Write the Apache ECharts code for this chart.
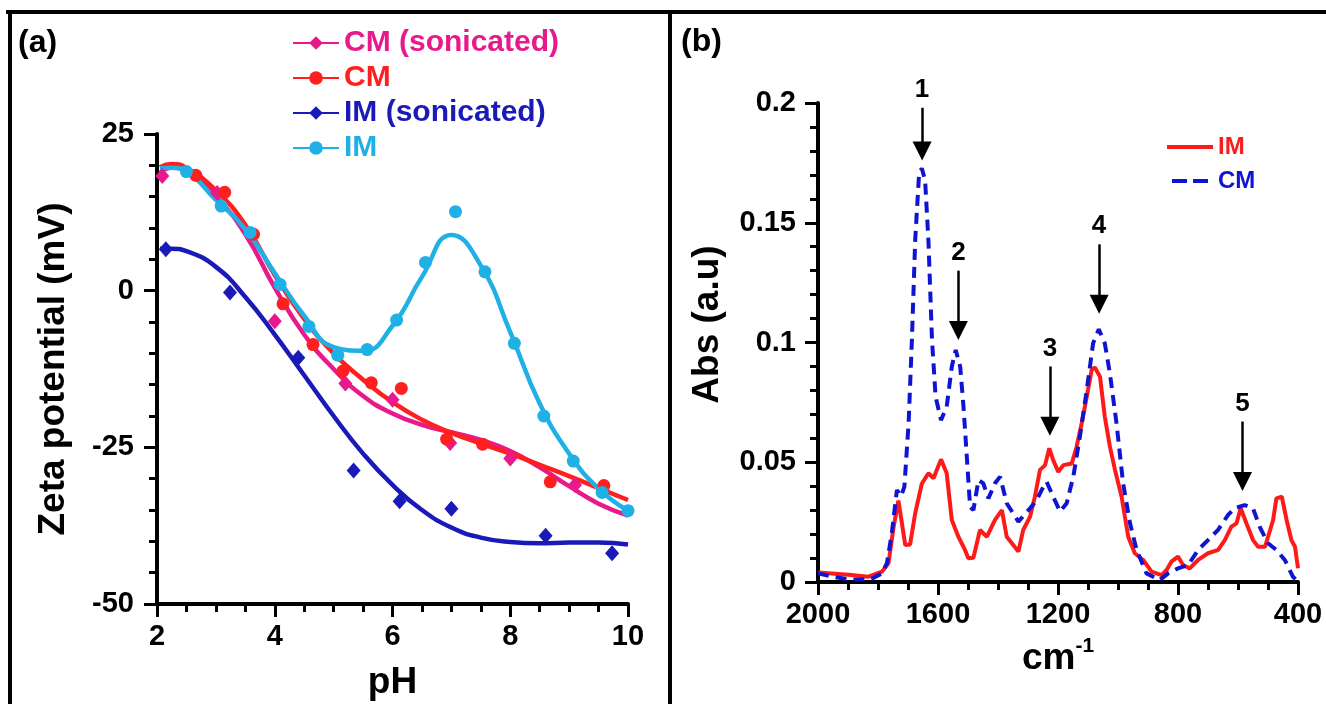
<!DOCTYPE html>
<html>
<head>
<meta charset="utf-8">
<script src="https://cdn.jsdelivr.net/npm/echarts@6/dist/echarts.min.js"></script>
<style>
  html, body { margin: 0; padding: 0; background: #fff; }
  #main { width: 1326px; height: 704px; }
</style>
</head>
<body>
<div id="main"></div>
<script>
// (a) zeta potential vs pH - measured points
var cmSonPH = [2.09, 3.02, 4.0, 5.2, 6.0, 6.98, 8.0, 9.1];
var cmSonZeta = [18.3, 15.6, -4.9, -14.8, -17.4, -24.3, -26.8, -31.0];
var cmPH = [2.66, 3.15, 3.64, 4.14, 4.65, 5.16, 5.64, 6.15, 6.92, 7.53, 8.68, 9.59];
var cmZeta = [18.4, 15.7, 9.0, -2.1, -8.6, -12.8, -14.7, -15.6, -23.7, -24.5, -30.5, -31.1];
var imSonPH = [2.15, 3.24, 4.4, 5.34, 6.12, 7.0, 8.6, 9.73];
var imSonZeta = [6.6, -0.3, -10.7, -28.7, -33.6, -34.8, -39.1, -41.9];
var imPH = [2.5, 3.09, 3.58, 4.09, 4.58, 5.07, 5.57, 6.07, 6.56, 7.07, 7.57, 8.07, 8.57, 9.07, 9.56, 10.0];
var imZeta = [19.0, 13.5, 9.3, 1.0, -5.7, -10.3, -9.4, -4.7, 4.5, 12.6, 3.0, -8.4, -20.0, -27.2, -32.2, -35.1];

// (a) fitted curves
var fitPH = [2.05, 2.25, 2.5, 3, 3.5, 4, 4.5, 5, 5.5, 6, 6.5, 7, 7.5, 8, 8.5, 9, 9.5, 10];
var cmSonFit = [18.8, 19.6, 19.0, 15.0, 9.0, 0.5, -7.0, -12.5, -16.8, -19.6, -21.4, -22.6, -23.8, -25.6, -28.2, -31.2, -34.0, -35.9];
var cmFit = [19.7, 20.2, 19.6, 16.0, 10.5, 2.5, -4.5, -10.0, -14.2, -17.8, -20.6, -22.7, -24.4, -26.0, -27.8, -29.6, -31.5, -33.4];
var imSonFit = [6.7, 6.7, 6.3, 3.8, -1.0, -7.0, -13.5, -20.0, -26.0, -31.0, -35.0, -37.8, -39.4, -40.1, -40.3, -40.2, -40.2, -40.5];
var imFit = [19.5, 19.6, 19.0, 14.5, 9.8, 2.8, -4.0, -9.0, -9.6, -5.6, 2.2, 8.9, 4.0, -6.6, -18.0, -26.0, -31.6, -35.1];

// (b) FTIR spectra
var imWave = [2000, 1898, 1832, 1787, 1765, 1748, 1732, 1709, 1693, 1676, 1654, 1632, 1615, 1590, 1571, 1554, 1532, 1510, 1499, 1482,
  1460, 1437, 1410, 1387, 1371, 1332, 1316, 1293, 1277, 1260, 1243, 1229, 1216, 1199, 1182, 1154, 1138, 1121, 1104, 1088,
  1077, 1060, 1044, 1027, 1010, 988, 966, 944, 916, 888, 855, 838, 822, 800, 783, 761, 733, 700, 666, 644,
  622, 605, 591, 572, 550, 533, 510, 493, 483, 472, 454, 438, 422, 410, 400];
var imAbs = [0.004, 0.003, 0.0022, 0.0043, 0.0078, 0.023, 0.034, 0.0154, 0.0157, 0.0287, 0.041, 0.0454, 0.0433, 0.0512, 0.0454, 0.0259, 0.0189, 0.0134, 0.0099, 0.0101,
  0.0217, 0.0189, 0.0259, 0.030, 0.0189, 0.0127, 0.0217, 0.0273, 0.0356, 0.0468, 0.0488, 0.0558, 0.0509, 0.046, 0.0488, 0.0495, 0.0565, 0.0663, 0.0774, 0.0885,
  0.0896, 0.0857, 0.069, 0.0565, 0.0468, 0.0356, 0.0189, 0.012, 0.0092, 0.0043, 0.0029, 0.005, 0.0085, 0.0106, 0.0071, 0.0057, 0.0092, 0.012, 0.0134, 0.0175,
  0.0231, 0.0245, 0.0308, 0.0245, 0.0175, 0.0147, 0.0147, 0.0217, 0.0259, 0.0349, 0.0356, 0.0259, 0.0175, 0.0147, 0.0057];
var cmWave = [2000, 1953, 1898, 1826, 1787, 1770, 1754, 1737, 1723, 1712, 1698, 1687, 1676, 1663, 1654, 1643, 1632, 1620, 1608, 1590,
  1571, 1554, 1541, 1526, 1515, 1504, 1493, 1482, 1465, 1449, 1432, 1410, 1393, 1371, 1332, 1293, 1271, 1249, 1238, 1216,
  1193, 1171, 1149, 1127, 1104, 1083, 1064, 1044, 1027, 1005, 983, 960, 938, 905, 861, 833, 800, 766, 733, 700,
  667, 633, 611, 578, 550, 528, 500, 472, 444, 417, 405];
var cmAbs = [0.0036, 0.0022, 0.0011, 0.001, 0.0036, 0.008, 0.0203, 0.0384, 0.0358, 0.0398, 0.0663, 0.101, 0.1428, 0.1706, 0.1727, 0.1678, 0.1428, 0.101, 0.0774, 0.0676,
  0.0732, 0.0899, 0.0969, 0.0899, 0.0732, 0.0523, 0.0314, 0.030, 0.0426, 0.0412, 0.0349, 0.0412, 0.044, 0.0329, 0.0252, 0.0308, 0.0342, 0.0398, 0.0419, 0.0356,
  0.0294, 0.0329, 0.044, 0.0607, 0.0802, 0.0997, 0.1055, 0.0997, 0.0871, 0.0663, 0.0412, 0.0245, 0.0134, 0.0036, 0.0008, 0.0036, 0.0057, 0.0071, 0.0134, 0.0175,
  0.0217, 0.028, 0.0308, 0.0321, 0.0308, 0.0231, 0.0162, 0.0134, 0.0092, 0.0022, 0.0008];

// peak arrows in (b)
var arrowText = ['1', '2', '3', '4', '5'];
var arrowWave = [1653, 1532, 1227, 1063, 585];
var arrowTop = [0.198, 0.130, 0.090, 0.141, 0.067];
var arrowTip = [0.176, 0.101, 0.061, 0.112, 0.038];

var font = 'Liberation Sans, Arial, sans-serif';
var magenta = '#e8198b', red = '#ff1f1f', navy = '#1a1ab8', sky = '#1fb1e6';
var specRed = '#ff1a1a', specBlue = '#0f14d2';

function pairs(xs, ys) {
  return xs.map(function (x, i) { return [x, ys[i]]; });
}

function plain(v) {
  return String(v);
}

function axisBase(extra) {
  var base = {
    type: 'value',
    nameLocation: 'middle',
    nameMoveOverlap: false,
    nameTextStyle: { fontSize: 37, fontWeight: 'bold', color: '#000', fontFamily: font },
    axisLine: { show: true, onZero: false, lineStyle: { color: '#000', width: 4 } },
    axisTick: { show: true, inside: false, length: 13, lineStyle: { color: '#000', width: 3 } },
    splitLine: { show: false }
  };
  return Object.assign(base, extra);
}

function ticks(split) {
  return { show: true, splitNumber: split, length: 8, lineStyle: { color: '#000', width: 3 } };
}

function labels(margin) {
  return { fontSize: 29, fontWeight: 'bold', color: '#000', fontFamily: font, margin: margin, formatter: plain };
}

var fitLine = function (name, color, symbol, ys) {
  return {
    name: name, type: 'line', xAxisIndex: 0, yAxisIndex: 0,
    data: pairs(fitPH, ys), smooth: 0.5, symbol: symbol, showSymbol: false,
    lineStyle: { color: color, width: 4.5 }, itemStyle: { color: color, borderWidth: 0 },
    z: 2, silent: true
  };
};
var points = function (name, color, symbol, size, xs, ys) {
  return {
    name: name, type: 'scatter', xAxisIndex: 0, yAxisIndex: 0,
    data: pairs(xs, ys), symbol: symbol, symbolSize: size,
    itemStyle: { color: color, opacity: 1 }, z: 3, silent: true
  };
};

// line end sits at the arrowhead centre, so lift it by half a head
var arrowData = arrowWave.map(function (w, i) {
  return [
    { name: arrowText[i], coord: [w, arrowTop[i]] },
    { coord: [w, arrowTip[i] + 0.0040] }
  ];
});

var option = {
  animation: false,
  backgroundColor: '#fff',
  title: [
    { text: '(a)', left: 18, top: 27, padding: 0, textStyle: { fontSize: 32, fontWeight: 'bold', color: '#000', fontFamily: font } },
    { text: '(b)', left: 681, top: 26, padding: 0, textStyle: { fontSize: 32, fontWeight: 'bold', color: '#000', fontFamily: font } }
  ],
  graphic: [
    { type: 'line', shape: { x1: 6, y1: 12, x2: 1326, y2: 12 }, style: { stroke: '#000', lineWidth: 4 } },
    { type: 'line', shape: { x1: 10, y1: 10, x2: 10, y2: 704 }, style: { stroke: '#000', lineWidth: 4 } },
    { type: 'line', shape: { x1: 670, y1: 10, x2: 670, y2: 704 }, style: { stroke: '#000', lineWidth: 4 } }
  ],
  legend: [
    {
      orient: 'vertical', left: 292, top: 28, itemWidth: 46, itemHeight: 17, itemGap: 5,
      selectedMode: false, padding: 0,
      itemStyle: { borderWidth: 0 },
      textStyle: { fontSize: 30, fontWeight: 'bold', fontFamily: font, lineHeight: 30 },
      data: [
        { name: 'CM (sonicated)', textStyle: { color: magenta } },
        { name: 'CM', textStyle: { color: red } },
        { name: 'IM (sonicated)', textStyle: { color: navy } },
        { name: 'IM', textStyle: { color: sky } }
      ]
    },
    {
      orient: 'vertical', left: 1167, top: 133, itemWidth: 46, itemHeight: 4, itemGap: 6,
      selectedMode: false, padding: 0,
      itemStyle: { borderWidth: 0 },
      textStyle: { fontSize: 24, fontWeight: 'bold', fontFamily: font, lineHeight: 28 },
      data: [
        { name: 'IM ', icon: 'rect', textStyle: { color: specRed } },
        { name: 'CM ', icon: 'path://M0,0h15v4h-15zM21,0h15v4h-15z', textStyle: { color: specBlue } }
      ]
    }
  ],
  grid: [
    { left: 157, top: 134, width: 471, height: 470, outerBoundsMode: 'none' },
    { left: 818, top: 103, width: 480, height: 479, outerBoundsMode: 'none' }
  ],
  xAxis: [
    axisBase({
      gridIndex: 0, min: 2, max: 10, interval: 2,
      name: 'pH', nameGap: 60,
      minorTick: ticks(4),
      axisLabel: labels(18)
    }),
    axisBase({
      gridIndex: 1, min: 400, max: 2000, interval: 400, inverse: true,
      name: '{a|cm}{b|-1}', nameGap: 54,
      nameTextStyle: {
        rich: {
          a: { fontSize: 37, fontWeight: 'bold', color: '#000', fontFamily: font },
          b: { fontSize: 21, fontWeight: 'bold', color: '#000', fontFamily: font, verticalAlign: 'bottom', padding: [0, 0, 24, 0] }
        }
      },
      minorTick: ticks(4),
      axisLabel: labels(18)
    })
  ],
  yAxis: [
    axisBase({
      gridIndex: 0, min: -50, max: 25, interval: 25,
      name: 'Zeta potential (mV)', nameGap: 85,
      minorTick: ticks(5),
      axisLabel: labels(23)
    }),
    axisBase({
      gridIndex: 1, min: 0, max: 0.2, interval: 0.05,
      name: 'Abs (a.u)', nameGap: 92,
      nameTextStyle: { fontSize: 37, fontWeight: 'bold', color: '#000', fontFamily: font, padding: [0, 0, 0, 36] },
      minorTick: ticks(5),
      axisLabel: labels(22)
    })
  ],
  series: [
    fitLine('CM (sonicated)', magenta, 'diamond', cmSonFit),
    fitLine('CM', red, 'circle', cmFit),
    fitLine('IM (sonicated)', navy, 'diamond', imSonFit),
    fitLine('IM', sky, 'circle', imFit),
    points('CM (sonicated) data', magenta, 'diamond', [14, 16], cmSonPH, cmSonZeta),
    points('CM data', red, 'circle', 13, cmPH, cmZeta),
    points('IM (sonicated) data', navy, 'diamond', [14, 16], imSonPH, imSonZeta),
    points('IM data', sky, 'circle', 13, imPH, imZeta),
    {
      name: 'IM ', type: 'line', xAxisIndex: 1, yAxisIndex: 1,
      data: pairs(imWave, imAbs), showSymbol: false, symbol: 'none',
      lineStyle: { color: specRed, width: 4 }, itemStyle: { color: specRed, borderWidth: 0 },
      z: 2, silent: true
    },
    {
      name: 'CM ', type: 'line', xAxisIndex: 1, yAxisIndex: 1,
      data: pairs(cmWave, cmAbs), showSymbol: false, symbol: 'none',
      lineStyle: { color: specBlue, width: 4, type: [11, 7] }, itemStyle: { color: specBlue, borderWidth: 0 },
      z: 3, silent: true,
      markLine: {
        silent: true,
        symbol: ['none', 'triangle'],
        symbolSize: 19,
        lineStyle: { color: '#000', width: 2.5, type: 'solid' },
        itemStyle: { color: '#000' },
        label: { show: true, position: 'start', formatter: '{b}', distance: 5, fontSize: 26, fontWeight: 'bold', color: '#000', fontFamily: font },
        emphasis: { disabled: true },
        data: arrowData
      }
    }
  ]
};

var chart = echarts.init(document.getElementById('main'));
chart.setOption(option);
</script>
</body>
</html>
